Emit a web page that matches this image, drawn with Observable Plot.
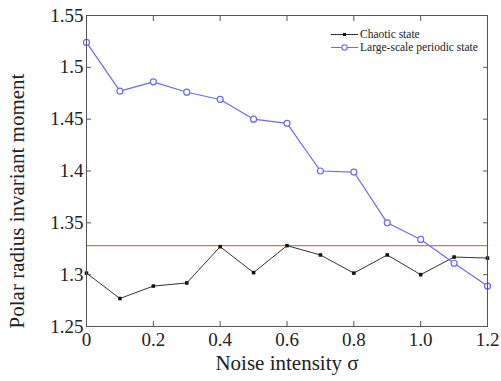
<!DOCTYPE html>
<html>
<head>
<meta charset="utf-8">
<script src="https://cdn.jsdelivr.net/npm/d3@7"></script>
<script src="https://cdn.jsdelivr.net/npm/@observablehq/plot@0.6"></script>
<style>
  html, body { margin: 0; padding: 0; background: #fff; }
  #wrap { position: relative; width: 501px; height: 381px; font-family: "Liberation Serif", "Times New Roman", "DejaVu Serif", serif; }
  #chart svg, #chart svg text { font-family: "Liberation Serif", "Times New Roman", "DejaVu Serif", serif !important; }
  #legend { position: absolute; left: 331px; top: 28px; font-size: 11.5px; color: #222; line-height: 13px; }
  #legend .row { display: flex; align-items: center; height: 13px; }
  #legend svg { margin-right: 1px; }
</style>
</head>
<body>
<div id="wrap">
  <div id="chart"></div>
  <div id="legend"></div>
</div>
<script>
const noise = [0, 0.1, 0.2, 0.3, 0.4, 0.5, 0.6, 0.7, 0.8, 0.9, 1.0, 1.1, 1.2];
const chaotic = [1.3015, 1.277, 1.289, 1.292, 1.327, 1.302, 1.328, 1.319, 1.3015, 1.319, 1.300, 1.317, 1.316];
const periodic = [1.524, 1.477, 1.486, 1.476, 1.469, 1.450, 1.446, 1.400, 1.399, 1.350, 1.334, 1.311, 1.289];
const threshold = 1.328;
const xTicks = [0, 0.2, 0.4, 0.6, 0.8, 1.0, 1.2];
const xTickLabels = ["0", "0.2", "0.4", "0.6", "0.8", "1.0", "1.2"];
const yTicks = [1.25, 1.3, 1.35, 1.4, 1.45, 1.5, 1.55];
const yTickLabels = ["1.25", "1.3", "1.35", "1.4", "1.45", "1.5", "1.55"];
const seriesNames = ["Chaotic state", "Large-scale periodic state"];
const xLabel = "Noise intensity σ";
const yLabel = "Polar radius invariant moment";

const chaoticData = noise.map((x, i) => ({x, y: chaotic[i]}));
const periodicData = noise.map((x, i) => ({x, y: periodic[i]}));

const blue = "#6a6af0";
const black = "#333";
const serif = "'Liberation Serif', 'Times New Roman', serif";
const xFmt = d => xTickLabels[xTicks.indexOf(d)];
const yFmt = d => yTickLabels[yTicks.findIndex(t => Math.abs(t - d) < 1e-9)];

const chart = Plot.plot({
  width: 501,
  height: 381,
  marginLeft: 86,
  marginRight: 14,
  marginTop: 15,
  marginBottom: 55,
  style: {fontFamily: serif, fontSize: "19px", color: "#222", background: "#fff"},
  x: {domain: [0, 1.2]},
  y: {domain: [1.25, 1.55]},
  marks: [
    Plot.ruleY([threshold], {stroke: "#e86a6a", strokeWidth: 1.3}),
    Plot.line(chaoticData, {x: "x", y: "y", stroke: black, strokeWidth: 1}),
    Plot.dot(chaoticData, {x: "x", y: "y", r: 2, fill: "#111", symbol: "square"}),
    Plot.line(periodicData, {x: "x", y: "y", stroke: blue, strokeWidth: 1.2}),
    Plot.dot(periodicData, {x: "x", y: "y", r: 3, stroke: blue, strokeWidth: 1.2, fill: "#fff"}),
    Plot.frame({stroke: "#555"}),
    Plot.axisX({ticks: xTicks, tickFormat: xFmt, tickSize: -5, tickPadding: 11, stroke: "#555", fontSize: 19,
      fontFamily: serif, label: null}),
    Plot.axisX({anchor: "top", ticks: xTicks, tickSize: -5, tickFormat: () => "", stroke: "#555", label: null}),
    Plot.axisY({ticks: yTicks, tickFormat: yFmt, tickSize: -5, tickPadding: 8, stroke: "#555", fontSize: 19,
      fontFamily: serif, label: null}),
    Plot.axisY({anchor: "right", ticks: yTicks, tickSize: -5, tickFormat: () => "", stroke: "#555", label: null}),
    Plot.text([xLabel], {text: d => d, frameAnchor: "bottom", textAnchor: "middle", dy: 37, fontSize: 21, fontFamily: serif, fill: "#222", lineAnchor: "middle"}),
    Plot.text([yLabel], {text: d => d, frameAnchor: "left", textAnchor: "middle", rotate: -90, dx: -69, dy: 30, fontSize: 21, fontFamily: serif, fill: "#222", lineAnchor: "middle"})
  ]
});
document.getElementById("chart").appendChild(chart);

// legend
const legend = document.getElementById("legend");
const styles = [
  {stroke: black, marker: `<rect x="12" y="5" width="3" height="3" fill="#111"/>`},
  {stroke: blue, marker: `<circle cx="13.5" cy="6.5" r="2.7" fill="#fff" stroke="${blue}" stroke-width="1.1"/>`}
];
seriesNames.forEach((name, i) => {
  const row = document.createElement("div");
  row.className = "row";
  row.innerHTML = `<svg width="28" height="13"><line x1="0" x2="27" y1="6.5" y2="6.5" stroke="${styles[i].stroke}" stroke-width="1"/>${styles[i].marker}</svg><span>${name}</span>`;
  legend.appendChild(row);
});
</script>
</body>
</html>
